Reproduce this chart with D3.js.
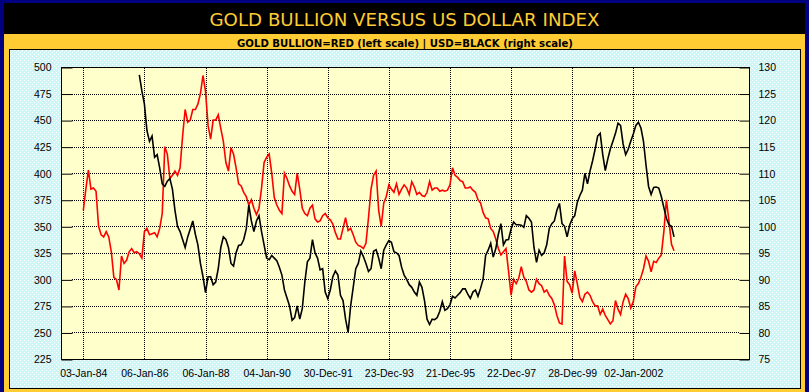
<!DOCTYPE html>
<html>
<head>
<meta charset="utf-8">
<script src="https://cdn.jsdelivr.net/npm/d3@7"></script>
<style>
  body { margin: 0; background: #000080; }
  svg { display: block; }
</style>
</head>
<body>
<svg id="chart" width="809" height="392"></svg>
<script>
// month index 0 = Jan 1984, one value per month
var goldStart = 0;
var goldValues = [
  365, 385, 403, 385, 386, 383, 350, 342, 340, 345, 340, 326, // 1984
  302, 300, 290, 322, 315, 318, 326, 329, 325, 326, 324, 320, // 1985
  345, 348, 342, 343, 344, 340, 348, 362, 425, 418, 395, 398, // 1986
  402, 398, 405, 435, 460, 448, 450, 460, 460, 465, 475, 492, // 1987
  477, 445, 432, 450, 450, 455, 442, 430, 410, 402, 424, 418, // 1988
  405, 390, 388, 382, 378, 370, 375, 367, 361, 367, 386, 410, // 1989
  415, 418, 400, 377, 370, 365, 362, 400, 395, 388, 383, 380, // 1990
  400, 385, 367, 362, 360, 367, 370, 357, 354, 355, 360, 362, // 1991
  358, 356, 352, 344, 338, 338, 348, 358, 346, 348, 342, 335, // 1992
  332, 331, 329, 334, 358, 385, 398, 402, 365, 350, 372, 378, // 1993
  389, 385, 382, 390, 380, 385, 389, 386, 380, 392, 387, 380, // 1994
  382, 379, 378, 382, 392, 384, 386, 386, 383, 384, 383, 384, // 1995
  389, 405, 398, 396, 393, 392, 386, 386, 387, 384, 382, 375, // 1996
  372, 363, 358, 357, 348, 345, 338, 329, 323, 326, 329, 308, // 1997
  285, 300, 296, 301, 312, 302, 298, 290, 288, 290, 300, 296, // 1998
  294, 288, 290, 285, 282, 276, 266, 259, 258, 322, 298, 295, // 1999
  287, 308, 296, 283, 279, 286, 288, 285, 279, 275, 275, 267, // 2000
  272, 266, 262, 258, 261, 280, 272, 267, 279, 286, 282, 273, // 2001
  279, 293, 296, 302, 310, 322, 317, 307, 317, 316, 320, 323, // 2002
  345, 375, 355, 333, 327                                      // 2003
];

// usd index starts Nov 1985 (earlier values are above the 130 scale)
var usdStart = 22;
var usdValues = [
  128.5, 125.5,                                                             // 1985
  123, 118, 116, 117, 113, 113.5, 111, 108, 107.5, 108.5, 109, 107,         // 1986
  103, 100, 99, 97.5, 96, 98, 99.5, 101, 98.5, 96.5, 93, 90.5,              // 1987
  87.5, 90.5, 90.5, 89, 89.5, 92, 96, 98, 97.5, 96, 93, 92.5,               // 1988
  95, 96.4, 96.5, 97.5, 99.5, 104, 101, 99, 101, 102, 99, 96.5,             // 1989
  94, 93.7, 94.5, 94, 93.5, 92.3, 90.8, 88, 86.5, 85, 82.3, 82.8,           // 1990
  85, 82.5, 84.5, 89.5, 93.3, 94, 97.5, 95, 94, 91.8, 92, 87.6,             // 1991
  86.4, 88, 90.5, 91.6, 90.8, 87, 86, 82.5, 80, 85, 88.5, 92,               // 1992
  93, 95.3, 94.3, 93, 91.5, 92, 95.3, 95.6, 94, 92, 95.5, 96.5,             // 1993
  97.3, 97, 95.2, 95, 94.5, 92.3, 90.8, 90, 89, 88.5, 87.6, 87,             // 1994
  89.5, 88.5, 86, 82.5, 81.5, 82.5, 82.4, 82.8, 84, 85.8, 84.2, 84.5,       // 1995
  85.2, 86.8, 86.5, 87, 87.5, 88.2, 88.2, 87.2, 86.4, 87.6, 88, 86.8,       // 1996
  88.3, 90, 94.5, 95.5, 96.8, 94.2, 95.8, 98.5, 100.5, 96.5, 97.4, 97.5,    // 1997
  99.5, 100.8, 100.3, 100.3, 100.2, 99.8, 102, 101.5, 100.8, 96, 93.2, 95.5,// 1998
  94.5, 95, 96.5, 99.6, 100.5, 101, 103, 104.3, 100.5, 100, 98, 100.2,      // 1999
  101.4, 102, 104.5, 105.8, 106.8, 110, 108, 110.4, 112.3, 114.5, 117, 117.5, // 2000
  113.5, 110.5, 112.7, 114.6, 116, 117.5, 119.4, 119, 115.5, 113.5, 114.5, 116, // 2001
  117.4, 119, 119.6, 118.5, 116, 111.5, 107.5, 106, 107.3, 107.4, 107.2, 105.6, // 2002
  103.5, 101.5, 100.3, 100, 98                                              // 2003
];

var tickMonths = [0, 24, 48, 72, 96, 120, 144, 168, 192, 216];
var tickLabels = ["03-Jan-84", "06-Jan-86", "06-Jan-88", "04-Jan-90", "30-Dec-91",
                  "23-Dec-93", "21-Dec-95", "22-Dec-97", "28-Dec-99", "02-Jan-2002"];
var goldTicks = [225, 250, 275, 300, 325, 350, 375, 400, 425, 450, 475, 500];
var usdTicks = [75, 80, 85, 90, 95, 100, 105, 110, 115, 120, 125, 130];

var svg = d3.select("#chart");
var plot = {left: 61, top: 67, right: 749, bottom: 359};
var tickFont = "'Liberation Sans', Arial, sans-serif";

// background pattern for the light cyan panel
var defs = svg.append("defs");
var pat = defs.append("pattern")
  .attr("id", "dots")
  .attr("width", 4).attr("height", 4)
  .attr("patternUnits", "userSpaceOnUse");
pat.append("rect").attr("width", 4).attr("height", 4).attr("fill", "#cff6f6");
pat.append("rect").attr("x", 0).attr("y", 0).attr("width", 1).attr("height", 1).attr("fill", "#ffffff");
pat.append("rect").attr("x", 2).attr("y", 2).attr("width", 1).attr("height", 1).attr("fill", "#ffffff");

defs.append("clipPath").attr("id", "clip")
  .append("rect")
  .attr("x", plot.left).attr("y", plot.top)
  .attr("width", plot.right - plot.left).attr("height", plot.bottom - plot.top);

// frame
svg.append("rect").attr("width", 809).attr("height", 392).attr("fill", "#000080");
svg.append("rect").attr("x", 4).attr("y", 3).attr("width", 801).attr("height", 389).attr("fill", "#ffcc33");
svg.append("rect").attr("x", 4).attr("y", 3).attr("width", 801).attr("height", 31).attr("fill", "#000000");
svg.append("rect").attr("x", 9.5).attr("y", 49.5).attr("width", 791).attr("height", 339)
  .attr("fill", "url(#dots)").attr("stroke", "#000").attr("stroke-width", 1);

// titles
svg.append("text")
  .attr("x", 404.5).attr("y", 26)
  .attr("text-anchor", "middle")
  .attr("textLength", 390).attr("lengthAdjust", "spacingAndGlyphs")
  .style("font-family", "'DejaVu Sans', Verdana, sans-serif")
  .style("font-size", "17px")
  .attr("fill", "#ffcc33")
  .text("GOLD BULLION VERSUS US DOLLAR INDEX");

svg.append("text")
  .attr("x", 405).attr("y", 47)
  .attr("text-anchor", "middle")
  .attr("textLength", 336).attr("lengthAdjust", "spacingAndGlyphs")
  .style("font-family", "'DejaVu Sans', Verdana, sans-serif")
  .style("font-size", "11px")
  .style("font-weight", "bold")
  .attr("fill", "#000")
  .text("GOLD BULLION=RED (left scale) | USD=BLACK (right scale)");

// scales
var x = d3.scaleLinear().domain([0, 216]).range([83.3, 633.3]);
var yGold = d3.scaleLinear().domain([225, 500]).range([plot.bottom, plot.top]);
var yUsd = d3.scaleLinear().domain([75, 130]).range([plot.bottom, plot.top]);

// plot area
svg.append("rect")
  .attr("x", plot.left + 0.5).attr("y", plot.top + 0.5)
  .attr("width", plot.right - plot.left).attr("height", plot.bottom - plot.top)
  .attr("fill", "#ffffcc");

// dotted grid
svg.append("g").selectAll("line")
  .data(goldTicks.slice(1, -1))
  .enter().append("line")
  .attr("x1", plot.left + 11).attr("x2", plot.right - 10)
  .attr("y1", function(d) { return Math.round(yGold(d)) + 0.5; })
  .attr("y2", function(d) { return Math.round(yGold(d)) + 0.5; })
  .attr("stroke", "#000").attr("stroke-dasharray", "1,1");

svg.append("g").selectAll("line")
  .data(tickMonths)
  .enter().append("line")
  .attr("x1", function(d) { return Math.round(x(d)) + 0.5; })
  .attr("x2", function(d) { return Math.round(x(d)) + 0.5; })
  .attr("y1", plot.top + 1).attr("y2", plot.bottom)
  .attr("stroke", "#000").attr("stroke-dasharray", "1,1");

// lines
var goldLine = d3.line()
  .x(function(d, i) { return x(goldStart + i); })
  .y(function(d) { return yGold(d); });
var usdLine = d3.line()
  .x(function(d, i) { return x(usdStart + i); })
  .y(function(d) { return yUsd(d); });

var lines = svg.append("g").attr("clip-path", "url(#clip)");
lines.append("path")
  .attr("d", goldLine(goldValues))
  .attr("fill", "none").attr("stroke", "#ff0000").attr("stroke-width", 1.6);
lines.append("path")
  .attr("d", usdLine(usdValues))
  .attr("fill", "none").attr("stroke", "#000000").attr("stroke-width", 1.6);

// border of plot
svg.append("rect")
  .attr("x", plot.left + 0.5).attr("y", plot.top + 0.5)
  .attr("width", plot.right - plot.left).attr("height", plot.bottom - plot.top)
  .attr("fill", "none").attr("stroke", "#000").attr("stroke-width", 1);

// axes
var leftAxis = svg.append("g")
  .attr("transform", "translate(" + (plot.left + 0.5) + ",0.5)")
  .call(d3.axisLeft(yGold).tickValues(goldTicks).tickSize(-11).tickPadding(10));
var rightAxis = svg.append("g")
  .attr("transform", "translate(" + (plot.right + 0.5) + ",0.5)")
  .call(d3.axisRight(yUsd).tickValues(usdTicks).tickSize(-10).tickPadding(9));
var bottomAxis = svg.append("g")
  .attr("transform", "translate(0," + plot.bottom + ")")
  .call(d3.axisBottom(x).tickValues(tickMonths)
    .tickFormat(function(d, i) { return tickLabels[i]; })
    .tickSize(0).tickPadding(11));

[leftAxis, rightAxis, bottomAxis].forEach(function(g) {
  g.select(".domain").remove();
  g.selectAll("line").attr("stroke", "#000");
  g.selectAll("text")
    .attr("fill", "#000")
    .style("font-family", tickFont)
    .style("font-size", "10.5px");
});
</script>
</body>
</html>
